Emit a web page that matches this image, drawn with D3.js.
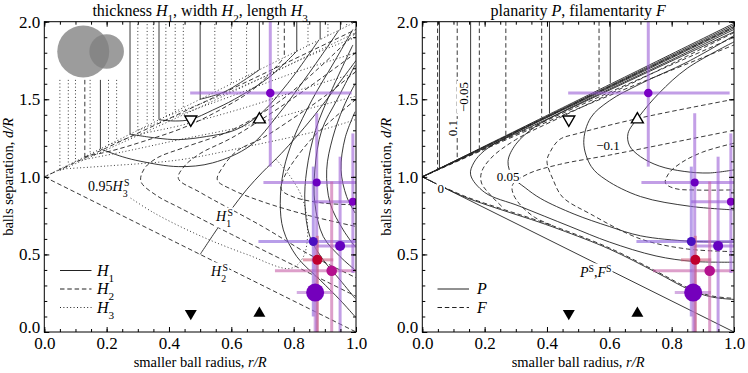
<!DOCTYPE html>
<html>
<head>
<meta charset="utf-8">
<script src="https://d3js.org/d3.v7.min.js"></script>
<style>
  body { margin: 0; background: #fff; }
  svg text { font-family: "Liberation Serif", "DejaVu Serif", serif; }
</style>
</head>
<body>
<svg id="vis" width="748" height="373"></svg>
<script>
// values, r = r/R, d = d/R
var xTicks = [0, 0.2, 0.4, 0.6, 0.8, 1.0]
var yTicks = [0, 0.5, 1.0, 1.5, 2.0]

// observed pairs, same in both panels
var obsR     = [0.725, 0.874, 0.99, 0.863, 0.949, 0.876, 0.922, 0.869]
var obsD     = [1.54, 0.963, 0.84, 0.583, 0.555, 0.465, 0.395, 0.254]
var obsRLo   = [0.468, 0.703, 0.863, 0.687, 0.87, 0.83, 0.74, 0.81]
var obsRHi   = [0.986, 1.05, 1.05, 1.05, 1.05, 0.927, 1.05, 0.926]
var obsDLo   = [1.066, -0.1, 0.38, 0.1, -0.1, -0.1, -0.1, -0.1]
var obsDHi   = [2.1, 1.41, 1.28, 1.066, 1.13, 0.62, 0.97, 0.6]
var obsSize  = [4.3, 4, 4, 4.5, 5, 5, 5.3, 9]
var obsColor = ['#7a00c4', '#6a00c0', '#7c00c0', '#4a10c0', '#6400c0', '#c0002e', '#b4108e', '#7400bc']
var barColor = ['#9b5fd6', '#9b5fd6', '#9b5fd6', '#8a5fdc', '#9b5fd6', '#d0607e', '#c860a8', '#b878d0']

// triangle markers
var markR = [0.47, 0.69]
var markDOpen = 1.37
var markDFill = 0.12

// ---- left panel: H1 solid, H2 dashed, H3 dotted ----
var leftH1Vert = [0.18, 0.275, 0.368, 0.5, 0.69, 0.81, 0.885, 0.95]
var leftH2Vert = [0.13, 0.77]
var leftH3Vert = [0.05, 0.077, 0.1, 0.147, 0.206, 0.232, 0.3, 0.33, 0.35, 0.39, 0.42, 0.446,
                  0.547, 0.6, 0.649, 0.75, 0.846, 0.91, 0.97]

var leftH1Curves = [
  [[0.18,1.18],[0.25,1.13],[0.31,1.1],[0.43,1.066],[0.54,1.09],[0.66,1.2],[0.75,1.4],[0.85,1.67],[0.945,1.945]],
  [[0.275,1.275],[0.36,1.25],[0.43,1.24],[0.52,1.26],[0.61,1.3],[0.69,1.4],[0.78,1.6],[0.88,1.88]],
  [[0.368,1.368],[0.42,1.36],[0.47,1.37],[0.54,1.43],[0.61,1.5],[0.72,1.64],[0.81,1.81]],
  [[0.5,1.5],[0.58,1.55],[0.69,1.69]],
  [[0.997,0.099],[0.949,0.206],[0.885,0.335],[0.81,0.486],[0.767,0.658],[0.757,0.83],[0.768,1.045],[0.8,1.25],[0.86,1.5],[0.93,1.74],[0.99,1.95]],
  [[0.997,0.217],[0.949,0.335],[0.895,0.465],[0.852,0.615],[0.836,0.83],[0.842,1.045],[0.87,1.3],[0.92,1.55],[0.99,1.85]],
  [[0.997,0.4],[0.949,0.486],[0.895,0.615],[0.868,0.83],[0.868,1.045],[0.89,1.3],[0.94,1.5],[0.997,1.72]],
  [[0.997,0.55],[0.959,0.658],[0.917,0.83],[0.906,1.045],[0.925,1.25],[0.96,1.45],[0.997,1.6]],
  [[0.997,0.767],[0.97,0.873],[0.952,1.045],[0.965,1.25],[0.997,1.42]],
  // H1^S
  [[0.5,0.5],[0.56,0.68],[0.6,0.79],[0.65,0.92],[0.7,1.03],[0.76,1.15],[0.86,1.38],[1.0,1.75]]
]
var leftH2Curves = [
  [[0,1],[1,0]],
  [[0,1],[0.5,1.47],[1.0,1.95]],
  [[0.13,1.13],[0.22,1.17],[0.32,1.23],[0.45,1.32],[0.58,1.45],[0.68,1.58],[0.77,1.77]],
  [[1.0,1.93],[0.88,1.7],[0.75,1.48],[0.6,1.3],[0.45,1.19],[0.36,1.12],[0.32,1.05],[0.31,0.97],[0.36,0.88],[0.435,0.8],[0.6,0.63],[0.8,0.43],[1.0,0.23]],
  [[1.0,1.8],[0.85,1.58],[0.72,1.4],[0.6,1.25],[0.5,1.15],[0.45,1.07],[0.43,0.99],[0.5,0.9],[0.7,0.68],[0.85,0.5],[1.0,0.35]],
  [[1.0,1.68],[0.9,1.52],[0.8,1.38],[0.7,1.25],[0.62,1.17],[0.575,1.07],[0.555,0.98],[0.6,0.92],[0.7,0.84],[0.85,0.75],[1.0,0.68]],
  [[1.0,1.5],[0.93,1.38],[0.86,1.25],[0.8,1.1],[0.77,1.0],[0.76,0.92],[0.8,0.87],[0.9,0.83],[1.0,0.82]]
]
var leftH3Curves = [
  [[0,1],[1,2]],
  [[0.05,1.04],[0.5,1.45],[1.0,1.93]],
  [[0.05,1.05],[0.2,1.07],[0.435,1.11],[0.65,1.195],[0.885,1.3],[1.0,1.37]],
  [[0.1,1.1],[0.25,1.16],[0.435,1.24],[0.65,1.33],[0.85,1.44],[1.0,1.52]],
  [[0.206,1.206],[0.3,1.27],[0.435,1.33],[0.65,1.45],[0.85,1.58],[1.0,1.67]],
  [[0.3,1.3],[0.435,1.4],[0.6,1.52],[0.8,1.67],[1.0,1.8]],
  [[0.39,1.39],[0.5,1.47],[0.7,1.64],[0.85,1.78],[1.0,1.9]],
  // 0.95 H3^S
  [[0.25,0.9],[0.35,0.77],[0.5,0.62],[0.65,0.5],[0.79,0.41],[0.83,0.48],[0.845,0.65],[0.83,0.85],[0.79,1.0],[0.74,1.12]]
]

// ---- right panel: P solid, F dashed ----
var rightPVert = [0.055, 0.155, 0.408, 0.603]
var rightFVert = [0.049, 0.112, 0.183, 0.268, 0.383, 0.567]

var rightPCurves = [
  [[0,1],[1,0]],
  [[0,1],[0.5,1.495],[1.0,1.99]],
  [[0,1],[0.5,1.488],[1.0,1.98]],
  [[0,1],[0.5,1.478],[1.0,1.96]],
  [[0,1],[0.5,1.465],[1.0,1.935]],
  [[1.0,1.97],[0.8,1.775],[0.6,1.58],[0.4,1.385],[0.28,1.265],[0.2,1.17],[0.165,1.09],[0.155,1.013],[0.2,0.9],[0.313,0.81],[0.474,0.68],[0.6,0.58],[0.75,0.49],[0.87,0.455],[1.0,0.45]],
  [[1.0,1.95],[0.8,1.755],[0.6,1.565],[0.45,1.42],[0.36,1.32],[0.3,1.21],[0.275,1.1],[0.29,1.0],[0.33,0.93],[0.38,0.86],[0.487,0.76],[0.6,0.68],[0.7,0.62],[0.86,0.585],[1.0,0.58]],
  [[1.0,1.91],[0.85,1.74],[0.7,1.6],[0.6,1.49],[0.54,1.38],[0.518,1.22],[0.542,1.067],[0.59,0.98],[0.7,0.873],[0.86,0.81],[1.0,0.787]],
  [[1.0,1.87],[0.85,1.7],[0.76,1.54],[0.696,1.39],[0.66,1.28],[0.665,1.2],[0.7,1.13],[0.76,1.07],[0.84,1.035],[0.92,1.025],[1.0,1.045]],
  [[0,1],[0.13,0.875],[0.25,0.79],[0.35,0.725],[0.442,0.66],[0.6,0.535],[0.75,0.385],[0.86,0.27],[0.93,0.225],[1.0,0.21]]
]
var rightFCurves = [
  [[0,1],[0.13,0.88],[0.25,0.797],[0.35,0.732],[0.442,0.667],[0.6,0.542],[0.75,0.392],[0.86,0.278],[0.93,0.232],[1.0,0.217]],
  [[0,1],[0.5,1.485],[1.0,1.965]],
  [[0,1],[0.5,1.455],[1.0,1.9]],
  [[0,1],[0.5,1.44],[1.0,1.85]],
  [[1.0,1.93],[0.7,1.63],[0.45,1.39],[0.3,1.24],[0.22,1.12],[0.19,1.03],[0.19,0.96],[0.22,0.88],[0.26,0.8]],
  [[1.0,1.3],[0.8,1.22],[0.6,1.14],[0.44,1.08],[0.34,1.02],[0.29,0.95],[0.29,0.9],[0.31,0.83],[0.36,0.74],[0.42,0.685]],
  [[1.0,1.5],[0.7,1.38],[0.5,1.28],[0.44,1.24],[0.41,1.16],[0.4,1.1],[0.42,0.98],[0.45,0.87],[0.54,0.76],[0.7,0.6],[0.85,0.535],[1.0,0.518]],
  [[1.0,1.217],[0.9,1.16],[0.83,1.09],[0.79,1.02],[0.78,0.96],[0.81,0.925],[0.88,0.915],[1.0,0.916]]
]

var svg = d3.select('#vis')
var y = d3.scaleLinear().domain([0, 2]).range([332, 21.7])
var xL = d3.scaleLinear().domain([0, 1]).range([44.3, 356])
var xR = d3.scaleLinear().domain([0, 1]).range([422.3, 734])

var dashes = { solid: null, dashed: '4.5,2.8', dotted: '1,2.4' }
var serif = '"Liberation Serif", "DejaVu Serif", serif'

function makePanel(x, id) {
  svg.append('clipPath').attr('id', id)
    .append('rect')
    .attr('x', x(0)).attr('y', y(2))
    .attr('width', x(1) - x(0)).attr('height', y(0) - y(2))
  return svg.append('g').attr('clip-path', 'url(#' + id + ')')
}

function drawCurves(g, x, curves, kind) {
  var line = d3.line()
    .x(function(d){ return x(d[0]) })
    .y(function(d){ return y(d[1]) })
    .curve(d3.curveCatmullRom.alpha(0.5))
  g.selectAll(null).data(curves).enter()
    .append('path')
    .attr('d', line)
    .attr('fill', 'none')
    .attr('stroke', '#222')
    .attr('stroke-width', 0.9)
    .attr('stroke-dasharray', dashes[kind])
}

// vertical contours above d = 1 + r, cut below the inset picture
function drawVerticals(g, x, rs, kind, cut) {
  g.selectAll(null).data(rs).enter()
    .append('line')
    .attr('x1', function(d){ return x(d) }).attr('x2', function(d){ return x(d) })
    .attr('y1', function(d){ return y(cut && d < 0.265 ? 1.625 : 2.05) })
    .attr('y2', function(d){ return y(1 + d) })
    .attr('stroke', '#222')
    .attr('stroke-width', 0.9)
    .attr('stroke-dasharray', dashes[kind])
}

function drawObs(g, x) {
  var idx = d3.range(obsR.length)
  g.selectAll(null).data(idx).enter().append('line')
    .attr('x1', function(i){ return x(obsRLo[i]) }).attr('x2', function(i){ return x(obsRHi[i]) })
    .attr('y1', function(i){ return y(obsD[i]) }).attr('y2', function(i){ return y(obsD[i]) })
    .attr('stroke', function(i){ return barColor[i] }).attr('stroke-width', 3).attr('opacity', 0.6)
  g.selectAll(null).data(idx).enter().append('line')
    .attr('x1', function(i){ return x(obsR[i]) }).attr('x2', function(i){ return x(obsR[i]) })
    .attr('y1', function(i){ return y(obsDLo[i]) }).attr('y2', function(i){ return y(obsDHi[i]) })
    .attr('stroke', function(i){ return barColor[i] }).attr('stroke-width', 3).attr('opacity', 0.6)
  g.selectAll(null).data(idx).enter().append('circle')
    .attr('cx', function(i){ return x(obsR[i]) })
    .attr('cy', function(i){ return y(obsD[i]) })
    .attr('r', function(i){ return obsSize[i] })
    .attr('fill', function(i){ return obsColor[i] })
}

function drawMarks(g, x) {
  var tri = d3.symbol().type(d3.symbolTriangle).size(62)
  markR.forEach(function(r, i) {
    var rot = i === 0 ? 180 : 0
    g.append('path').attr('d', tri)
      .attr('transform', 'translate(' + x(r) + ',' + y(markDOpen) + ') rotate(' + rot + ')')
      .attr('fill', '#fff').attr('stroke', '#000').attr('stroke-width', 1.4)
    g.append('path').attr('d', tri)
      .attr('transform', 'translate(' + x(r) + ',' + y(markDFill) + ') rotate(' + rot + ')')
      .attr('fill', '#000')
  })
}

function drawAxes(x) {
  var ax = svg.append('g')
  var x0 = x(0), x1 = x(1)
  ax.append('g').attr('transform', 'translate(0,' + y(0) + ')')
    .call(d3.axisBottom(x).tickValues(xTicks).tickFormat(d3.format('.1f')).tickSize(-5).tickSizeOuter(0).tickPadding(5))
  ax.append('g').attr('transform', 'translate(0,' + y(0) + ')')
    .call(d3.axisBottom(x).ticks(20).tickFormat('').tickSize(-3).tickSizeOuter(0))
  ax.append('g').attr('transform', 'translate(0,' + y(2) + ')')
    .call(d3.axisTop(x).tickValues(xTicks).tickFormat('').tickSize(-5).tickSizeOuter(0))
  ax.append('g').attr('transform', 'translate(0,' + y(2) + ')')
    .call(d3.axisTop(x).ticks(20).tickFormat('').tickSize(-3).tickSizeOuter(0))
  var yl0 = ax.append('g').attr('transform', 'translate(' + x0 + ',0)')
    .call(d3.axisLeft(y).tickValues(yTicks).tickFormat(d3.format('.1f')).tickSize(-5).tickSizeOuter(0).tickPadding(4))
  ax.append('g').attr('transform', 'translate(' + x0 + ',0)')
    .call(d3.axisLeft(y).ticks(20).tickFormat('').tickSize(-3).tickSizeOuter(0))
  ax.append('g').attr('transform', 'translate(' + x1 + ',0)')
    .call(d3.axisRight(y).tickValues(yTicks).tickFormat('').tickSize(-5).tickSizeOuter(0))
  ax.append('g').attr('transform', 'translate(' + x1 + ',0)')
    .call(d3.axisRight(y).ticks(20).tickFormat('').tickSize(-3).tickSizeOuter(0))
  ax.selectAll('.domain').remove()
  ax.selectAll('line').attr('stroke', '#000')
  ax.selectAll('text').attr('fill', '#000').style('font-family', serif).style('font-size', '17px')
  // keep the lowest y label clear of the x label below it
  yl0.selectAll('text').filter(function(d){ return d === 0 }).attr('dy', '0.02em')
  ax.append('rect').attr('x', x0).attr('y', y(2)).attr('width', x1 - x0).attr('height', y(0) - y(2))
    .attr('fill', 'none').attr('stroke', '#000').attr('stroke-width', 1)

  var xl = svg.append('text').attr('x', x(0.5)).attr('y', 367).attr('text-anchor', 'middle').style('font-size', '14.5px')
  xl.append('tspan').text('smaller ball radius,  ')
  xl.append('tspan').attr('font-style', 'italic').text('r/R')
  var yl = svg.append('text').attr('transform', 'translate(' + (x0 - 31) + ',' + y(1.0) + ') rotate(-90)')
    .attr('text-anchor', 'middle').style('font-size', '14.5px')
  yl.append('tspan').text('balls separation,  ')
  yl.append('tspan').attr('font-style', 'italic').text('d/R')
}

// text made of pieces: [string, 'n' | 'i' | 'sub' | 'sup' | 'supb']
function rich(sel, parts) {
  parts.forEach(function(p) {
    var t = sel.append('tspan').text(p[0])
    if (p[1] === 'i') t.attr('font-style', 'italic')
    if (p[1] === 'sub') t.attr('baseline-shift', 'sub').attr('font-size', '70%')
    if (p[1] === 'sup') t.attr('baseline-shift', 'super').attr('font-size', '70%')
    if (p[1] === 'supb') t.attr('baseline-shift', 'super').attr('font-size', '70%').attr('dx', '-0.35em')
  })
  return sel
}

function label(x0, y0, size, parts, anchor, rotate) {
  var g = svg.append('g').attr('transform', 'translate(' + x0 + ',' + y0 + ')' + (rotate ? ' rotate(' + rotate + ')' : ''))
  var t = g.append('text').style('font-size', size + 'px').attr('text-anchor', anchor || 'start')
  rich(t, parts)
  var b = t.node().getBBox()
  g.insert('rect', 'text').attr('x', b.x - 1).attr('y', b.y + 1).attr('width', b.width + 2).attr('height', b.height - 2).attr('fill', '#fff')
  return g
}

// ---------- left panel ----------
var gL = makePanel(xL, 'clipL')
drawVerticals(gL, xL, leftH3Vert, 'dotted', true)
drawVerticals(gL, xL, leftH2Vert, 'dashed', true)
drawVerticals(gL, xL, leftH1Vert, 'solid', true)
drawCurves(gL, xL, leftH3Curves, 'dotted')
drawCurves(gL, xL, leftH2Curves, 'dashed')
drawCurves(gL, xL, leftH1Curves, 'solid')

// inset: the two balls
gL.append('circle').attr('cx', xL(0.125)).attr('cy', y(1.808)).attr('r', 26).attr('fill', '#808080').attr('opacity', 0.78)
gL.append('circle').attr('cx', xL(0.2)).attr('cy', y(1.808)).attr('r', 17.3).attr('fill', '#808080').attr('opacity', 0.78)

label(88, 191, 14, [['0.95', 'n'], ['H', 'i'], ['3', 'sub'], ['S', 'supb']])
label(216, 221, 14, [['H', 'i'], ['1', 'sub'], ['S', 'supb']])
label(211, 276, 14, [['H', 'i'], ['2', 'sub'], ['S', 'supb']])

drawObs(gL, xL)
drawMarks(gL, xL)

// legend
var legL = [['solid', 'H', '1'], ['dashed', 'H', '2'], ['dotted', 'H', '3']]
legL.forEach(function(l, i) {
  var yy = 270.5 + i * 18.5
  svg.append('line').attr('x1', 60).attr('x2', 91.5).attr('y1', yy).attr('y2', yy)
    .attr('stroke', '#222').attr('stroke-width', 1).attr('stroke-dasharray', dashes[l[0]])
  rich(svg.append('text').attr('x', 97).attr('y', yy + 5).style('font-size', '16px'), [[l[1], 'i'], [l[2], 'sub']])
})

drawAxes(xL)
rich(svg.append('text').attr('x', xL(0.5)).attr('y', 16).attr('text-anchor', 'middle').style('font-size', '16px'),
  [['thickness ', 'n'], ['H', 'i'], ['1', 'sub'], [', width ', 'n'], ['H', 'i'], ['2', 'sub'], [', length ', 'n'], ['H', 'i'], ['3', 'sub']])

// ---------- right panel ----------
var gR = makePanel(xR, 'clipR')
drawVerticals(gR, xR, rightFVert, 'dashed', false)
drawVerticals(gR, xR, rightPVert, 'solid', false)
drawCurves(gR, xR, rightFCurves, 'dashed')
drawCurves(gR, xR, rightPCurves, 'solid')

label(440.7, 193, 13, [['0', 'n']], 'middle')
label(508, 181, 13, [['0.05', 'n']], 'middle')
label(608, 150, 13, [['\u22120.1', 'n']], 'middle')
label(456.5, 128, 13, [['0.1', 'n']], 'middle', -90)
label(468, 97, 13, [['\u22120.05', 'n']], 'middle', -90)
label(580, 277, 14, [['P', 'i'], ['S', 'sup'], [',', 'n'], ['F', 'i'], ['S', 'sup']])

drawObs(gR, xR)
drawMarks(gR, xR)

var legR = [['solid', 'P'], ['dashed', 'F']]
legR.forEach(function(l, i) {
  var yy = 289 + i * 18.5
  svg.append('line').attr('x1', 437.5).attr('x2', 469).attr('y1', yy).attr('y2', yy)
    .attr('stroke', '#222').attr('stroke-width', 1).attr('stroke-dasharray', dashes[l[0]])
  rich(svg.append('text').attr('x', 477).attr('y', yy + 5).style('font-size', '16px'), [[l[1], 'i']])
})

drawAxes(xR)
rich(svg.append('text').attr('x', xR(0.5)).attr('y', 16).attr('text-anchor', 'middle').style('font-size', '16px'),
  [['planarity ', 'n'], ['P', 'i'], [', filamentarity ', 'n'], ['F', 'i']])
</script>
</body>
</html>
